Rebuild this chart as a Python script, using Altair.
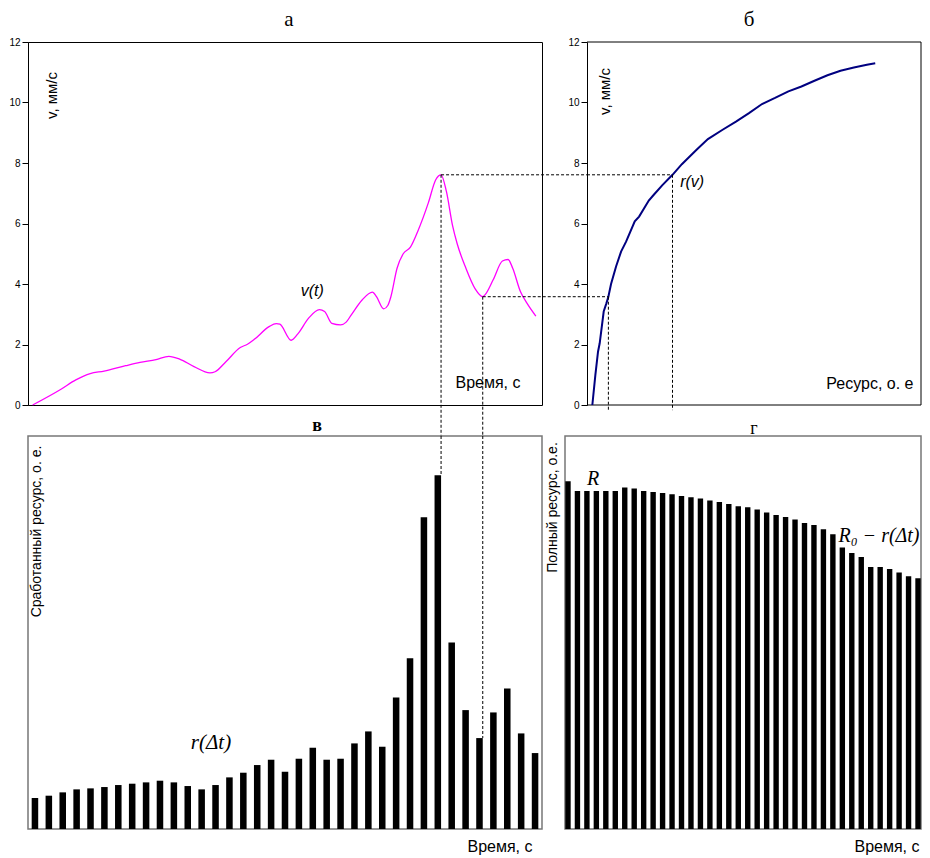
import altair as alt
import pandas as pd

# ---------------- data ----------------
# panel а : v(t)
t_a = [0.9, 6.5, 9.3, 12.1, 14.8, 19.0, 21.8, 24.9, 27.4, 29.5, 32.3, 35.4, 36.4, 38.5,
       41.3, 42.7, 44.1, 46.9, 48.3, 49.0, 51.2, 52.5, 54.6, 56.7, 57.7, 59.1, 60.8, 61.9,
       62.9, 65.0, 67.0, 67.8, 69.2, 70.0, 70.6, 71.8, 73.0, 74.4, 75.8, 77.9, 79.3, 80.36,
       81.4, 82.6, 83.5, 85.2, 87.0, 88.47, 88.9, 90.5, 92.3, 93.4, 94.3, 95.8, 97.1, 98.8]
v_a = [0, 0.53, 0.83, 1.04, 1.12, 1.30, 1.41, 1.50, 1.61, 1.52, 1.27, 1.06, 1.10, 1.43,
       1.90, 2.01, 2.18, 2.59, 2.69, 2.67, 2.14, 2.35, 2.87, 3.15, 3.09, 2.70, 2.65, 2.74,
       2.98, 3.47, 3.73, 3.58, 3.18, 3.29, 3.58, 4.52, 5.00, 5.22, 5.73, 6.69, 7.44, 7.61,
       7.06, 5.93, 5.33, 4.52, 3.84, 3.58, 3.64, 4.14, 4.76, 4.81, 4.52, 3.75, 3.36, 2.94]

# panel б : r(v)
r_b = [1.6, 2.5, 3.3, 3.8, 5.0, 5.8, 6.4, 7.2, 8.7, 10.2, 11.7, 14.3, 15.6, 18.5, 20.0,
       22.5, 25.6, 28.4, 32.8, 36.2, 40.6, 44.6, 48.5, 52.4, 56.3, 60.3, 64.2, 68.1, 72.0,
       75.9, 79.9, 83.8, 86.3]
v_b = [0, 0.99, 1.76, 2.04, 3.09, 3.36, 3.58, 4.00, 4.58, 5.07, 5.40, 6.07, 6.23, 6.76, 6.95,
       7.26, 7.61, 7.96, 8.44, 8.79, 9.10, 9.37, 9.65, 9.95, 10.15, 10.37, 10.53, 10.72, 10.90,
       11.05, 11.16, 11.25, 11.30]

# panel в : spent resource per interval
intervals_c = list(range(1, 38))
spent = [0.93, 1.00, 1.10, 1.19, 1.22, 1.26, 1.32, 1.36, 1.40, 1.45, 1.40, 1.29, 1.19, 1.32,
         1.55, 1.69, 1.92, 2.08, 1.72, 2.11, 2.44, 2.08, 2.11, 2.57, 2.93, 2.47, 3.95, 5.13,
         9.36, 10.62, 5.60, 3.57, 2.73, 3.50, 4.22, 2.87, 2.28]

# panel г : full (remaining) resource
intervals_d = list(range(1, 39))
full = [10.44, 10.15, 10.15, 10.15, 10.15, 10.15, 10.25, 10.22, 10.15, 10.12, 10.09, 10.05,
        10.00, 9.96, 9.92, 9.86, 9.82, 9.76, 9.69, 9.66, 9.59, 9.50, 9.43, 9.37, 9.29, 9.19,
        9.13, 9.00, 8.85, 8.45, 8.29, 8.17, 7.87, 7.87, 7.81, 7.70, 7.59, 7.53]

# guide (dashed) values
T_PEAK, T_MIN = 80.36, 88.47
V_PEAK, V_MIN = 7.61, 3.58
R_PEAK, R_MIN = 25.6, 6.4
PEAK_BAR, MIN_BAR = 30, 33

# ---------------- layout ----------------
W_A, W_C = 514, 514
W_B_PLOT, B_SHIFT = 334, 22           # б plot starts 22 px right of г's left edge
W_B = W_B_PLOT + B_SHIFT
W_D = 356
H_TOP, H_BOT = 363, 393
GAP_TOP = 45                           # a right edge -> б axis
GAP_COL, GAP_ROW = 23, 31
V_MAX, RES_MAX, R_MAX = 12, 11.8, 100
R_LO = -B_SHIFT / W_B_PLOT * R_MAX
T_EXT = 100 + GAP_TOP / W_A * 100      # reach into panel б
V_EXT = -GAP_ROW / H_TOP * V_MAX       # reach into panel в
V_B_EXT = -0.17

SANS = "Liberation Sans, Arial, sans-serif"
SERIF = "Liberation Serif, Times New Roman, serif"
DASH = [3, 2]


def inner_title(**kw):
    base = dict(titleFont=SANS, titleFontWeight="normal", titleColor="black",
                titleAlign="center", titleBaseline="middle")
    base.update(kw)
    return base


def panel_letter(letter, px, py, size, weight="normal"):
    return alt.Chart(pd.DataFrame({"s": [letter]})).mark_text(
        font=SERIF, fontSize=size, fontWeight=weight, color="black",
        align="center", baseline="middle").encode(
        x=alt.value(px), y=alt.value(py), text="s:N")


# ---------------- panel а ----------------
xa = alt.Scale(domain=[0, 100], nice=False, zero=False)
ya = alt.Scale(domain=[0, V_MAX], nice=False)
xaxis_a = alt.Axis(title="Время, с", labels=False, ticks=False, domain=False, grid=False,
                   **inner_title(titleX=492, titleY=-23, titleAlign="right", titleAngle=0,
                                 titleFontSize=16))
yaxis_a = alt.Axis(values=list(range(0, 13, 2)), title="v, мм/с", grid=False, tickSize=6,
                   tickColor="black", domainColor="black", labelFont=SANS, labelFontSize=10,
                   labelColor="black", labelPadding=2,
                   **inner_title(titleX=23, titleY=53, titleAngle=270, titleFontSize=15))

df_a = pd.DataFrame({"t": t_a, "v": v_a})
line_a = alt.Chart(df_a).mark_line(color="#ff00ff", strokeWidth=1.3, interpolate="monotone").encode(
    x=alt.X("t:Q", scale=xa, axis=xaxis_a), y=alt.Y("v:Q", scale=ya, axis=yaxis_a))

guides_a = pd.DataFrame({
    "t": [T_PEAK, T_MIN, T_PEAK, T_MIN],
    "t2": [T_EXT, T_EXT, T_PEAK, T_MIN],
    "v": [V_PEAK, V_MIN, V_PEAK, V_MIN],
    "v2": [V_PEAK, V_MIN, V_EXT, V_EXT],
})
rules_a = alt.Chart(guides_a).mark_rule(color="black", strokeDash=DASH, strokeWidth=1).encode(
    x=alt.X("t:Q", scale=xa, axis=xaxis_a), x2="t2", y=alt.Y("v:Q", scale=ya, axis=yaxis_a), y2="v2")

lab_a = alt.Chart(pd.DataFrame({"t": [55.3], "v": [3.78], "s": ["v(t)"]})).mark_text(
    font=SANS, fontSize=16, fontStyle="italic", color="black", align="center", baseline="middle"
).encode(x=alt.X("t:Q", scale=xa, axis=xaxis_a), y=alt.Y("v:Q", scale=ya, axis=yaxis_a), text="s:N")

panel_a = alt.layer(line_a, rules_a, lab_a, panel_letter("а", 261, -22, 21)).properties(
    width=W_A, height=H_TOP, view=alt.ViewBackground(stroke="black", strokeWidth=1))

# ---------------- panel б ----------------
xb = alt.Scale(domain=[R_LO, R_MAX], nice=False, zero=False)
xaxis_b = alt.Axis(title="Ресурс, о. е", labels=False, ticks=False, domain=False, grid=False,
                   **inner_title(titleX=348, titleY=-22, titleAlign="right", titleAngle=0,
                                 titleFontSize=16))
yaxis_b = alt.Axis(values=list(range(0, 13, 2)), title="v, мм/с", grid=False, tickSize=6,
                   tickColor="black", domainColor="black", labelFont=SANS, labelFontSize=10,
                   labelColor="black", labelPadding=2, offset=-B_SHIFT,
                   **inner_title(titleX=17, titleY=49, titleAngle=270, titleFontSize=15))

df_b = pd.DataFrame({"r": r_b, "v": v_b})
line_b = alt.Chart(df_b).mark_line(color="#000080", strokeWidth=2).encode(
    x=alt.X("r:Q", scale=xb, axis=xaxis_b), y=alt.Y("v:Q", scale=ya, axis=yaxis_b))

frame_b = pd.DataFrame({"r": [0, 0, R_MAX], "r2": [R_MAX, R_MAX, R_MAX],
                        "v": [0, V_MAX, 0], "v2": [0, V_MAX, V_MAX]})
box_b = alt.Chart(frame_b).mark_rule(color="black", strokeWidth=1).encode(
    x=alt.X("r:Q", scale=xb, axis=xaxis_b), x2="r2", y=alt.Y("v:Q", scale=ya, axis=yaxis_b), y2="v2")

guides_b = pd.DataFrame({
    "r": [0, 0, R_PEAK, R_MIN],
    "r2": [R_PEAK, R_MIN, R_PEAK, R_MIN],
    "v": [V_PEAK, V_MIN, V_PEAK, V_MIN],
    "v2": [V_PEAK, V_MIN, V_B_EXT, V_B_EXT],
})
rules_b = alt.Chart(guides_b).mark_rule(color="black", strokeDash=DASH, strokeWidth=1).encode(
    x=alt.X("r:Q", scale=xb, axis=xaxis_b), x2="r2", y=alt.Y("v:Q", scale=ya, axis=yaxis_b), y2="v2")

lab_b = alt.Chart(pd.DataFrame({"r": [27.9], "v": [7.37], "s": ["r(v)"]})).mark_text(
    font=SANS, fontSize=16, fontStyle="italic", color="black", align="left", baseline="middle"
).encode(x=alt.X("r:Q", scale=xb, axis=xaxis_b), y=alt.Y("v:Q", scale=ya, axis=yaxis_b), text="s:N")

panel_b = alt.layer(box_b, line_b, rules_b, lab_b, panel_letter("б", 184, -22, 21)).properties(
    width=W_B, height=H_TOP, view=alt.ViewBackground(stroke="transparent"))

# ---------------- panel в ----------------
xc = alt.Scale(type="band", paddingInner=0.53, paddingOuter=0.265)
yc = alt.Scale(domain=[0, RES_MAX], nice=False)
xaxis_c = alt.Axis(title="Время, с", labels=False, ticks=False, domain=False, grid=False,
                   **inner_title(titleX=504, titleY=17, titleAlign="right", titleAngle=0,
                                 titleFontSize=16))
yaxis_c = alt.Axis(title="Сработанный ресурс, о. е.", labels=False, ticks=False, domain=False,
                   grid=False, **inner_title(titleX=8, titleY=95, titleAngle=270, titleFontSize=14))

df_c = pd.DataFrame({"k": intervals_c, "r": spent})
bars_c = alt.Chart(df_c).mark_bar(color="black").encode(
    x=alt.X("k:O", scale=xc, axis=xaxis_c), y=alt.Y("r:Q", scale=yc, axis=yaxis_c))

guides_c = pd.DataFrame({"k": [PEAK_BAR, MIN_BAR], "top": [RES_MAX, RES_MAX],
                         "r": [spent[PEAK_BAR - 1], spent[MIN_BAR - 1]]})
rules_c = alt.Chart(guides_c).mark_rule(color="black", strokeDash=DASH, strokeWidth=1).encode(
    x=alt.X("k:O", scale=xc, axis=xaxis_c, bandPosition=1),
    y=alt.Y("top:Q", scale=yc, axis=yaxis_c), y2="r")

lab_c = alt.Chart(pd.DataFrame({"s": ["r(Δt)"]})).mark_text(
    font=SERIF, fontSize=21, fontStyle="italic", color="black", align="center", baseline="middle"
).encode(x=alt.value(183), y=alt.value(307), text="s:N")

panel_c = alt.layer(bars_c, rules_c, lab_c, panel_letter("в", 289, -10, 18, "bold")).properties(
    width=W_C, height=H_BOT, view=alt.ViewBackground(stroke="#777777", strokeWidth=1.5))

# ---------------- panel г ----------------
xd = alt.Scale(type="band", paddingInner=0.43, paddingOuter=0.03)
xaxis_d = alt.Axis(title="Время, с", labels=False, ticks=False, domain=False, grid=False,
                   **inner_title(titleX=354, titleY=17, titleAlign="right", titleAngle=0,
                                 titleFontSize=16))
yaxis_d = alt.Axis(title="Полный  ресурс, о.е.", labels=False, ticks=False, domain=False,
                   grid=False, **inner_title(titleX=-13, titleY=71, titleAngle=270, titleFontSize=14))

df_d = pd.DataFrame({"k": intervals_d, "R": full})
bars_d = alt.Chart(df_d).mark_bar(color="black").encode(
    x=alt.X("k:O", scale=xd, axis=xaxis_d), y=alt.Y("R:Q", scale=yc, axis=yaxis_d))

lab_d = alt.Chart(pd.DataFrame({"s": ["R", "R₀ − r(Δt)"], "px": [28, 314], "py": [43, 100]})).mark_text(
    font=SERIF, fontSize=20, fontStyle="italic", color="black", align="center", baseline="middle"
).encode(x=alt.X("px:Q", scale=None), y=alt.Y("py:Q", scale=None), text="s:N")

panel_d = alt.layer(bars_d, lab_d, panel_letter("г", 189, -7, 18)).properties(
    width=W_D, height=H_BOT, view=alt.ViewBackground(stroke="#777777", strokeWidth=1.5))

# ---------------- assemble ----------------
chart = alt.concat(panel_a, panel_b, panel_c, panel_d, columns=2, bounds="flush",
                   spacing={"row": GAP_ROW, "column": GAP_COL}).properties(
    padding={"left": 0, "top": 0, "right": 0, "bottom": 0}
).configure(background="white", font=SANS).resolve_scale(x="independent", y="independent")

chart.save("out.html", embed_options={"renderer": "svg", "actions": False})
